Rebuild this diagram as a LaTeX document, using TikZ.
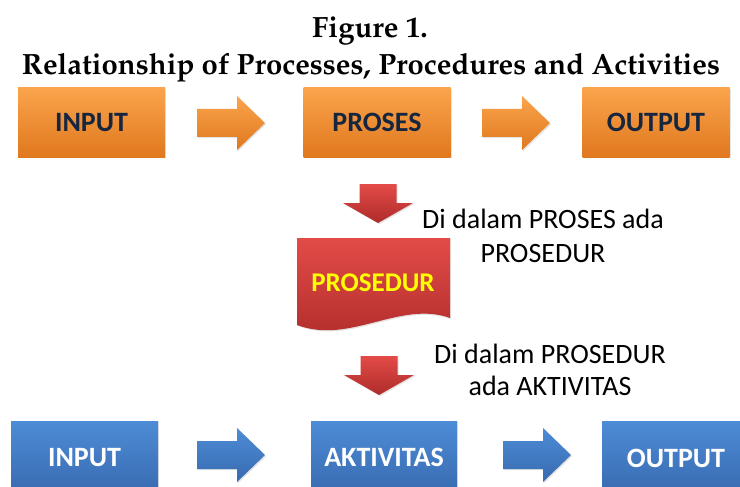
\documentclass[tikz,border=0pt]{standalone}
\usepackage{fontspec}
\setmainfont{Carlito}
\usetikzlibrary{shadows}
\definecolor{orTop}{HTML}{FAA44C}
\definecolor{orBot}{HTML}{E0781E}
\definecolor{blTop}{HTML}{4D8CD6}
\definecolor{blBot}{HTML}{386AAF}
\definecolor{rdTop}{HTML}{E34B48}
\definecolor{rdBot}{HTML}{AE2C2A}
\definecolor{navy}{HTML}{17263F}
\definecolor{yel}{HTML}{FFFF00}
\newcommand\mytitlefont{\fontencoding{OT1}\fontfamily{ppl}\fontseries{b}\fontshape{n}\selectfont}
\tikzset{
  shad/.style={drop shadow={opacity=0.22,shadow xshift=1.2pt,shadow yshift=-1.2pt}},
  boxbase/.style={rectangle, inner sep=0pt, shad, font=\fontsize{28}{32}\selectfont\bfseries},
  obox/.style={boxbase, minimum width=147pt, minimum height=69pt, top color=orTop, bottom color=orBot, text=navy},
  bbox/.style={boxbase, minimum width=147pt, minimum height=74pt, top color=blTop, bottom color=blBot, text=white},
  lbl/.style={align=center, inner sep=0pt, text=black},
  titletext/.style={inner sep=0pt, font=\mytitlefont\fontsize{29.3}{32}\selectfont},
  blockright/.pic={
    \path[shad, top color=#1Top, bottom color=#1Bot]
      (-34,-14) -- (6,-14) -- (6,-27) -- (34,0) -- (6,27) -- (6,14) -- (-34,14) -- cycle;
  },
  blockdown/.pic={
    \path[shad, top color=rdTop, bottom color=rdBot]
      (-18.5,0) -- (18.5,0) -- (18.5,19) -- (35,19) -- (0,39) -- (-35,19) -- (-18.5,19) -- cycle;
  }
}
\begin{document}
\begin{tikzpicture}[x=1pt,y=-1pt]
\useasboundingbox (0,0) rectangle (740,487);
\fill[white] (0,0) rectangle (740,487);
% title
\node[titletext] (t1) at (370,31) {Figure 1.};
\node[titletext] (t2) at (371,68) {Relationship of Processes, Procedures and Activities};
% top row
\node[obox] (in1) at (91.5,122.5) {\raisebox{-3pt}{INPUT}};
\node[obox] (pro) at (377,122.5) {PROSES};
\node[obox] (out1) at (656,122.5) {\raisebox{-3pt}{OUTPUT}};
\pic at (231,123) {blockright=or};
\pic at (516,123) {blockright=or};
% down arrow 1
\pic at (378,184) {blockdown};
% PROSEDUR document shape
\path[shad, top color=rdTop, bottom color=rdBot]
  (297,238) -- (450,238) -- (450,318)
  .. controls (400,300) and (350,345) .. (297,325) -- cycle;
\node[inner sep=0pt, text=yel, font=\fontsize{27}{30}\selectfont\bfseries] (prosedur) at (373,283) {PROSEDUR};
% labels
\node[lbl, font=\fontsize{28}{34}\selectfont] (lab1) at (543,236) {Di dalam PROSES ada\\PROSEDUR};
\node[lbl, font=\fontsize{28}{32}\selectfont] (lab2) at (550,370) {Di dalam PROSEDUR\\ada AKTIVITAS};
% down arrow 2
\pic at (379,356) {blockdown};
% bottom row
\node[bbox] (in2) at (84.5,458) {INPUT};
\node[bbox, minimum width=146pt] (akt) at (384,458) {\raisebox{2pt}{AKTIVITAS}};
\node[bbox, minimum width=148pt] (out2) at (676,458) {OUTPUT};
\pic at (231,455) {blockright=bl};
\pic at (537,455) {blockright=bl};
\end{tikzpicture}
\end{document}
